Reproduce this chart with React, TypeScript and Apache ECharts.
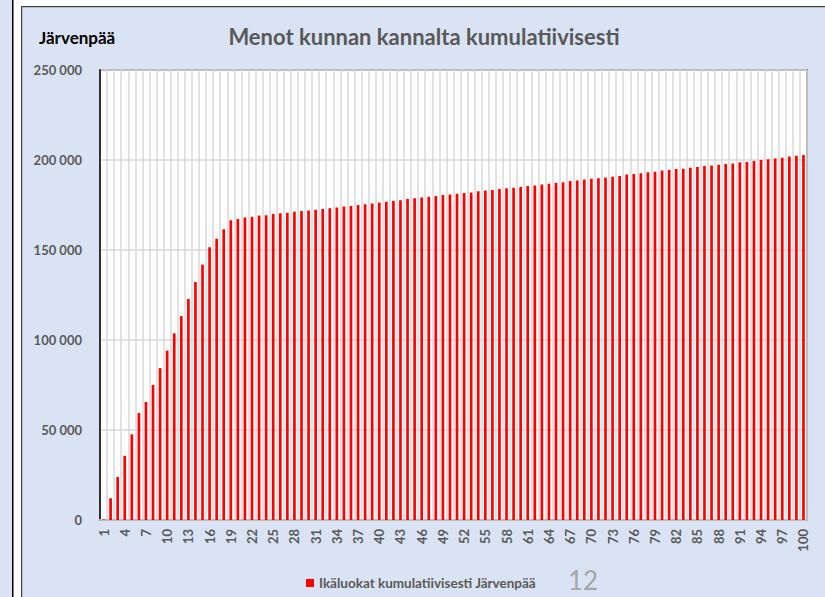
import React, { useEffect, useRef } from "react";
import * as echarts from "echarts";

const chartTitle = "Menot kunnan kannalta kumulatiivisesti";
const cornerLabel = "Järvenpää";
const seriesName = "Ikäluokat kumulatiivisesti Järvenpää";
const slideNumber = "12";

const ages: string[] = Array.from({ length: 100 }, (_, i) => String(i + 1));

const cumulative: number[] = [
  300, 12100, 23900, 35600, 47600, 59400, 65600, 75000, 84400, 94100,
  103700, 113300, 122800, 132200, 141900, 151500, 156300, 161500, 166500, 167200,
  168100, 168500, 169100, 169300, 170000, 170400, 170700, 171200, 171600, 172000,
  172300, 172800, 173200, 173600, 174100, 174500, 175000, 175400, 175900, 176400,
  176800, 177300, 177700, 178300, 178700, 179200, 179600, 180000, 180500, 180900,
  181300, 181700, 182000, 182600, 183000, 183300, 183900, 184300, 184600, 185000,
  185500, 185900, 186400, 186800, 187400, 187700, 188300, 188600, 189200, 189600,
  189900, 190300, 190700, 191100, 191900, 192200, 192600, 193200, 193500, 194100,
  194400, 195000, 195200, 195700, 196100, 196700, 197000, 197400, 197800, 198100,
  198700, 198900, 199500, 200000, 200400, 200900, 201300, 201900, 202400, 202800,
];

const FONT = "Lato, 'Open Sans', sans-serif";
const GRAY = "#595959";

export default function App() {
  const ref = useRef<HTMLDivElement>(null);
  useEffect(() => {
    if (!ref.current) return;
    const chart = echarts.init(ref.current, undefined, { renderer: "svg" });
    chart.setOption({
      animation: false,
      backgroundColor: "#DAE3F3",
      textStyle: { fontFamily: FONT },
      graphic: [
        { type: "rect", shape: { x: 13, y: 0, width: 8, height: 597 }, style: { fill: "#ffffff" }, z: 0 },
        { type: "rect", shape: { x: 21, y: 0, width: 804, height: 6 }, style: { fill: "#ffffff" }, z: 0 },
        { type: "rect", shape: { x: 12, y: 0, width: 1.5, height: 597 }, style: { fill: "#000000" }, z: 1 },
        { type: "rect", shape: { x: 21, y: 6, width: 804, height: 1.2 }, style: { fill: "#404040" }, z: 1 },
        { type: "rect", shape: { x: 21, y: 6, width: 1.2, height: 591 }, style: { fill: "#404040" }, z: 1 },
        {
          type: "text",
          x: 424,
          y: 36,
          style: {
            text: chartTitle,
            fill: GRAY,
            font: `bold 22px ${FONT}`,
            textAlign: "center",
            textVerticalAlign: "middle",
          },
        },
        {
          type: "text",
          x: 39,
          y: 37,
          style: {
            text: cornerLabel,
            fill: "#000000",
            font: `bold 17px ${FONT}`,
            textAlign: "left",
            textVerticalAlign: "middle",
          },
        },
        {
          type: "text",
          x: 583,
          y: 580,
          style: {
            text: slideNumber,
            fill: "#A6A6A6",
            font: `26px ${FONT}`,
            textAlign: "center",
            textVerticalAlign: "middle",
          },
        },
      ],
      legend: {
        data: [seriesName],
        left: 301,
        top: 571,
        icon: "rect",
        itemWidth: 8,
        itemHeight: 8,
        textStyle: { color: GRAY, fontWeight: "bold", fontSize: 13.5, fontFamily: FONT },
      },
      grid: {
        left: 100,
        right: 18,
        top: 70,
        bottom: 77,
        show: true,
        borderColor: "#404040",
        borderWidth: 1.5,
        backgroundColor: "#ffffff",
      },
      xAxis: {
        type: "category",
        data: ages,
        boundaryGap: true,
        axisLine: { show: true, lineStyle: { color: "#BFBFBF", width: 2 } },
        axisTick: { show: false },
        axisLabel: {
          interval: 2,
          rotate: 90,
          color: GRAY,
          fontWeight: "bold",
          fontSize: 13,
          fontFamily: FONT,
          margin: 9,
        },
        splitLine: { show: true, interval: 0, lineStyle: { color: "#D9D9D9", width: 1.5 } },
      },
      yAxis: {
        type: "value",
        min: 0,
        max: 250000,
        interval: 50000,
        axisLine: { show: true, lineStyle: { color: "#000000", width: 1.5 } },
        axisTick: { show: false },
        axisLabel: {
          color: GRAY,
          fontWeight: "bold",
          fontSize: 13,
          fontFamily: FONT,
          margin: 18,
          formatter: (v: number) => String(v).replace(/\B(?=(\d{3})+(?!\d))/g, " "),
        },
        splitLine: { show: true, lineStyle: { color: "#D9D9D9", width: 1.5 } },
      },
      series: [
        {
          name: seriesName,
          type: "bar",
          data: cumulative,
          barWidth: "38%",
          itemStyle: { color: "#FF0000" },
        },
      ],
    });
    return () => chart.dispose();
  }, []);
  return (
    <div
      ref={ref}
      style={{ position: "absolute", left: 0, top: 0, width: 825, height: 597 }}
    />
  );
}
